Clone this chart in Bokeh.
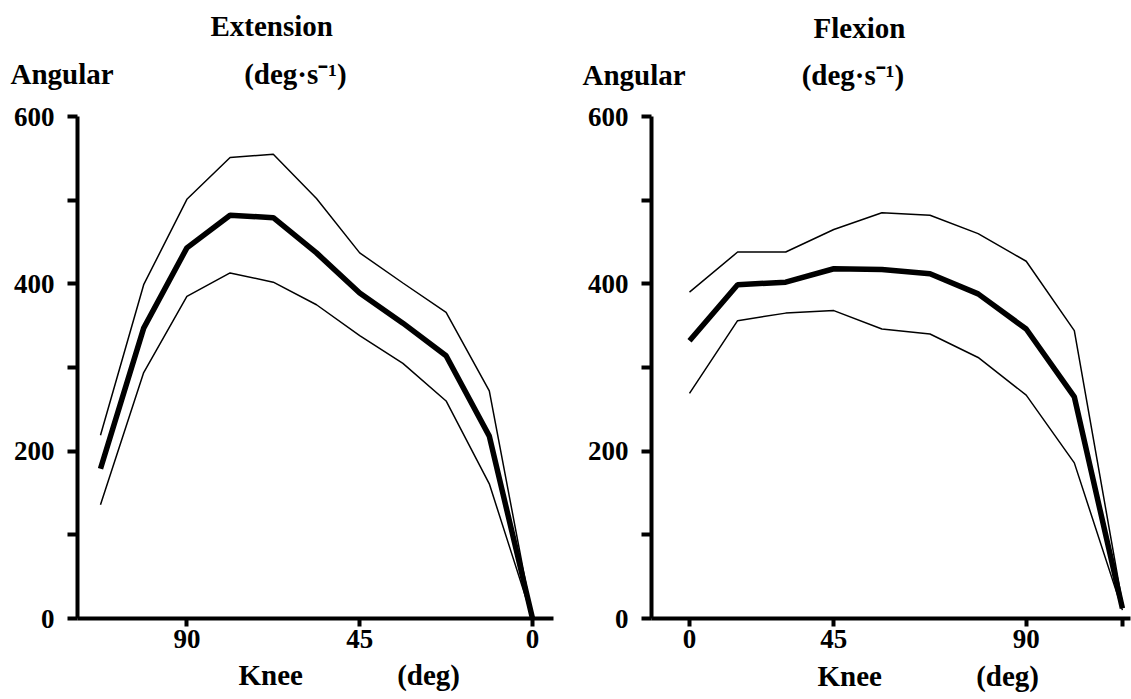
from bokeh.plotting import figure
from bokeh.models import FixedTicker, Range1d, Title
from bokeh.layouts import row
from bokeh.embed import file_html
from bokeh.resources import INLINE

# ---------------- data ----------------
ext_idx = list(range(11))
ext_mean = [179, 347, 443, 482, 479, 437, 389, 353, 314, 218, 0]
ext_upper = [219, 399, 501, 551, 555, 502, 437, 401, 366, 272, 0]
ext_lower = [136, 294, 385, 413, 402, 375, 338, 305, 260, 161, 0]
ext_tick_pos = [2, 6, 10]
ext_tick_labels = ["90", "45", "0"]

flex_idx = list(range(10))
flex_mean = [332, 399, 402, 418, 417, 412, 388, 346, 265, 12]
flex_upper = [390, 438, 438, 465, 485, 482, 460, 427, 344, 18]
flex_lower = [269, 356, 365, 368, 346, 340, 312, 267, 186, 10]
flex_tick_pos = [0, 3, 7, 9]
flex_tick_labels = ["0", "45", "90", ""]

y_ticks = [0, 100, 200, 300, 400, 500, 600]
y_tick_labels = ["0", "", "200", "", "400", "", "600"]

FONT = "Liberation Serif"
NB = "\u00a0"


def mk_title(text, align, offset, standoff):
    return Title(text=text, align=align, offset=offset, standoff=standoff,
                 text_font=FONT, text_font_style="bold",
                 text_font_size="29px", text_color="black")


def panel(width, bl, br, bt, bb, xr, yr, idx, mean, upper, lower,
          tpos, tlabels, head, sub, foot):
    p = figure(width=width, height=699, output_backend="svg",
               toolbar_location=None, x_range=Range1d(*xr),
               y_range=Range1d(*yr),
               min_border_left=bl, min_border_right=br,
               min_border_top=bt, min_border_bottom=bb)
    p.outline_line_color = None
    p.xgrid.grid_line_color = None
    p.ygrid.grid_line_color = None
    for ax in (p.xaxis[0], p.yaxis[0]):
        ax.axis_line_width = 4
        ax.axis_line_color = "black"
        ax.major_tick_line_width = 4
        ax.major_tick_line_color = "black"
        ax.major_tick_in = 0
        ax.minor_tick_line_color = None
        ax.major_label_text_font = FONT
        ax.major_label_text_font_style = "bold"
        ax.major_label_text_font_size = "27px"
        ax.major_label_text_color = "black"
    p.xaxis[0].ticker = FixedTicker(ticks=tpos)
    p.xaxis[0].major_label_overrides = {t: l for t, l in zip(tpos, tlabels)}
    p.xaxis[0].major_tick_out = 8
    p.xaxis[0].major_label_standoff = 3
    p.yaxis[0].ticker = FixedTicker(ticks=y_ticks)
    p.yaxis[0].major_label_overrides = {t: l for t, l in zip(y_ticks, y_tick_labels)}
    p.yaxis[0].major_tick_out = 10
    p.yaxis[0].major_label_standoff = 13

    p.line(idx, upper, line_color="black", line_width=1.5)
    p.line(idx, lower, line_color="black", line_width=1.5)
    p.line(idx, mean, line_color="black", line_width=5.5)

    p.add_layout(mk_title(*sub), "above")
    p.add_layout(mk_title(*head), "above")
    p.add_layout(mk_title(*foot), "below")
    return p


p1 = panel(570, 77, 17, 116, 79, (-0.532, 10.486), (0, 600),
           ext_idx, ext_mean, ext_upper, ext_lower,
           ext_tick_pos, ext_tick_labels,
           ("Extension", "left", 133, -24),
           ("Angular" + NB * 18 + "(deg\u00b7s\u207b\u00b9)", "left", -67, 53),
           ("Knee" + NB * 13 + "(deg)", "left", 161, 12))
p2 = panel(561, 81, 1, 114, 81, (-0.79, 9.168), (0, 600),
           flex_idx, flex_mean, flex_upper, flex_lower,
           flex_tick_pos, flex_tick_labels,
           ("Flexion", "left", 162, -24),
           ("Angular" + NB * 16 + "(deg\u00b7s\u207b\u00b9)", "left", -69, 51),
           ("Knee" + NB * 13 + "(deg)", "left", 166, 14))

layout = row(p1, p2)
open("out.html", "w").write(file_html(layout, INLINE))
